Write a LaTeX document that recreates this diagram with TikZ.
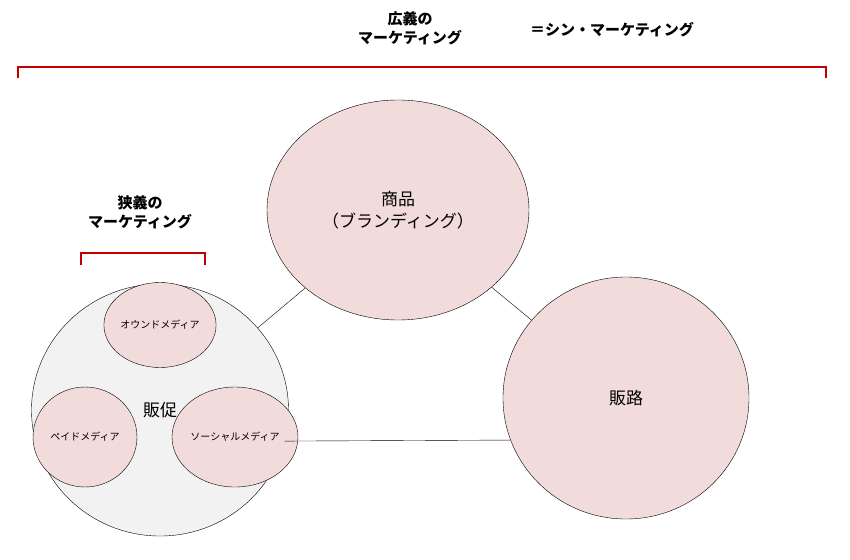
\documentclass[tikz,border=0pt]{standalone}
\usepackage{fontspec}
\setmainfont{Noto Sans CJK JP}
\usetikzlibrary{shapes.geometric}
\definecolor{bracketred}{HTML}{C00000}
\definecolor{pinkfill}{HTML}{F2DCDB}
\definecolor{greyfill}{HTML}{F2F2F2}
\tikzset{
  bubble/.style={ellipse, draw, fill=pinkfill, inner sep=0pt},
  bracket/.style={draw=bracketred, line width=2.5pt},
  heading/.style={font=\bfseries\fontsize{15}{19}\selectfont, align=center}
}
\begin{document}
\begin{tikzpicture}[x=1pt, y=-1pt]
  \useasboundingbox (0,0) rectangle (850,559);
  % headings
  \node[heading] (wide) at (410,28) {広義の\\マーケティング};
  \node[heading] (shin) at (612,30) {＝シン・マーケティング};
  \node[heading] (narrow) at (140,212) {狭義の\\マーケティング};
  % brackets
  \draw[bracket] (18,78) -- (18,67) -- (826,67) -- (826,78);
  \draw[bracket] (81,265) -- (81,253) -- (205,253) -- (205,265);
  % circles
  \node[bubble, minimum width=262pt, minimum height=220pt, font=\fontsize{17}{22}\selectfont, align=center]
    (goods) at (398,210) {商品\\（ブランディング）};
  \node[bubble, minimum width=246pt, minimum height=242pt, font=\fontsize{17}{22}\selectfont]
    (route) at (626,398) {販路};
  \node[bubble, fill=greyfill, minimum width=257pt, minimum height=252pt, font=\fontsize{17}{22}\selectfont]
    (promo) at (160,410) {販促};
  \node[bubble, minimum width=104pt, minimum height=85pt, font=\fontsize{10}{12}\selectfont]
    (owned) at (160,325) {オウンドメディア};
  \node[bubble, minimum width=104pt, minimum height=100pt, font=\fontsize{10}{12}\selectfont]
    (paid) at (85,437) {ペイドメディア};
  \node[bubble, minimum width=100pt, minimum height=100pt, font=\fontsize{10}{12}\selectfont]
    (social) at (235,437) {ソーシャルメディア};
  % connectors
  \draw (promo) -- (goods);
  \draw (goods) -- (route);
  \draw (promo.-14) -- (route.200);
\end{tikzpicture}
\end{document}
